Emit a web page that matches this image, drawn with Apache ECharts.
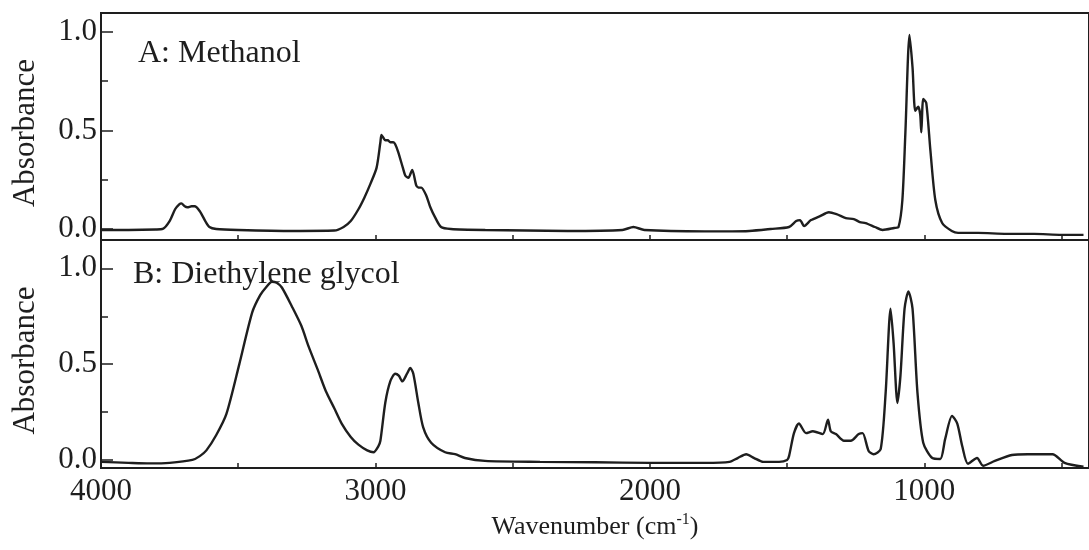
<!DOCTYPE html>
<html>
<head>
<meta charset="utf-8">
<script src="https://cdn.jsdelivr.net/npm/echarts@6/dist/echarts.min.js"></script>
<style>
html,body{margin:0;padding:0;background:#fff;}
#c{width:1089px;height:550px;}
</style>
</head>
<body>
<div id="c"></div>
<script>
// Panel A: Methanol
const methanolWn = [4000,3900,3800,3775,3750,3730,3715,3707,3695,3685,3670,3659,3640,3620,3605,3580,3500,3300,3150,3116,3090,3062,3040,3018,2996,2982,2978,2970,2964,2955,2946,2935,2928,2917,2900,2891,2880,2866,2851,2840,2833,2815,2800,2783,2761,2725,2600,2300,2100,2060,2020,1800,1700,1638,1560,1493,1467,1453,1438,1413,1380,1348,1320,1286,1257,1235,1214,1180,1152,1110,1094,1080,1069,1054,1043,1033,1022,1015,1011,1004,993,978,960,935,900,877,804,700,600,500,420];
const methanolAbs = [-0.005,-0.005,-0.003,0.0,0.04,0.10,0.125,0.13,0.115,0.11,0.115,0.115,0.09,0.04,0.01,0.0,-0.005,-0.01,-0.008,0.01,0.04,0.10,0.16,0.23,0.31,0.44,0.477,0.46,0.45,0.45,0.44,0.44,0.43,0.39,0.31,0.27,0.26,0.30,0.22,0.21,0.21,0.17,0.11,0.06,0.01,0.0,-0.005,-0.01,-0.005,0.01,-0.005,-0.012,-0.012,-0.01,0.0,0.01,0.04,0.045,0.015,0.045,0.065,0.085,0.075,0.055,0.05,0.035,0.03,0.01,-0.005,0.005,0.01,0.147,0.49,0.985,0.82,0.60,0.62,0.58,0.49,0.66,0.64,0.40,0.147,0.03,-0.01,-0.02,-0.02,-0.025,-0.025,-0.03,-0.03];

// Panel B: Diethylene glycol
const glycolWn = [4000,3900,3822,3750,3667,3640,3616,3580,3543,3496,3449,3420,3399,3377,3360,3341,3304,3270,3243,3210,3181,3150,3123,3090,3062,3030,3007,2990,2982,2964,2946,2928,2915,2902,2885,2873,2862,2844,2826,2797,2746,2710,2674,2601,2400,2200,2000,1800,1710,1680,1649,1620,1587,1529,1500,1493,1475,1457,1431,1406,1370,1351,1341,1322,1293,1268,1239,1225,1203,1185,1159,1141,1123,1112,1098,1087,1072,1058,1043,1025,1004,971,942,924,899,880,862,841,808,786,743,681,623,533,489,420];
const glycolAbs = [-0.01,-0.015,-0.018,-0.015,0.0,0.02,0.05,0.13,0.24,0.50,0.77,0.86,0.90,0.93,0.925,0.90,0.80,0.70,0.59,0.47,0.36,0.27,0.19,0.12,0.08,0.05,0.04,0.07,0.10,0.30,0.41,0.45,0.44,0.41,0.45,0.48,0.45,0.30,0.17,0.09,0.04,0.03,0.01,-0.005,-0.01,-0.012,-0.015,-0.015,-0.01,0.01,0.03,0.01,-0.01,-0.01,0.0,0.02,0.14,0.19,0.14,0.15,0.135,0.21,0.15,0.135,0.10,0.10,0.135,0.14,0.047,0.03,0.057,0.35,0.79,0.61,0.297,0.44,0.79,0.88,0.79,0.35,0.09,0.01,0.005,0.11,0.23,0.19,0.073,-0.02,0.01,-0.03,-0.005,0.026,0.03,0.03,-0.015,-0.035];

// Tick labels
const xTickLabels = [4000, 3000, 2000, 1000];
const xTickMarks = [4000, 3500, 3000, 2500, 2000, 1500, 1000, 500];
const yTickLabels = [0, 0.5, 1.0];
const yMinorTicks = [0.25, 0.75];
const panelNames = ['A: Methanol', 'B: Diethylene glycol'];

const FONT = '"Liberation Serif", "DejaVu Serif", serif';
const INK = '#1e1e1e';

const zip = (xs, ys) => xs.map((x, i) => [x, ys[i]]);

const chart = echarts.init(document.getElementById('c'), null, {renderer: 'canvas'});

const grids = [
  {left: 101, top: 13, width: 994, height: 227},
  {left: 101, top: 240, width: 994, height: 228}
].map(g => Object.assign(g, {show: true, borderColor: INK, borderWidth: 2, backgroundColor: 'transparent', containLabel: false}));

const yRanges = [[-0.056, 1.096], [-0.042, 1.148]];

function xAxisFor(i, showLabels) {
  return {
    type: 'value', gridIndex: i, min: 400, max: 4000, inverse: true, position: 'bottom',
    axisLine: {show: true, onZero: false, lineStyle: {color: INK, width: 2}},
    axisTick: {show: true, inside: true, length: 5, customValues: xTickMarks, lineStyle: {color: INK, width: 1.5}},
    axisLabel: {show: showLabels, customValues: xTickLabels, margin: 8, fontFamily: FONT, fontSize: 31, color: INK,
      formatter: v => String(v)},
    splitLine: {show: false},
    name: showLabels ? '{a|Wavenumber (cm}{s|-1}{a|)}' : '',
    nameLocation: 'middle', nameGap: 44,
    nameTextStyle: {
      fontFamily: FONT, fontSize: 26, color: INK,
      rich: {
        a: {fontFamily: FONT, fontSize: 26, color: INK, lineHeight: 30},
        s: {fontFamily: FONT, fontSize: 16, color: INK, verticalAlign: 'top', lineHeight: 30, padding: [0, 0, 12, 0]}
      }
    }
  };
}

function yMainFor(i) {
  return {
    type: 'value', gridIndex: i, min: yRanges[i][0], max: yRanges[i][1],
    axisLine: {show: true, onZero: false, lineStyle: {color: INK, width: 2}},
    axisTick: {show: true, inside: true, length: 12, customValues: yTickLabels, lineStyle: {color: INK, width: 1.5}},
    axisLabel: {show: true, customValues: yTickLabels, margin: 4, fontFamily: FONT, fontSize: 31, color: INK,
      formatter: v => v.toFixed(1)},
    splitLine: {show: false},
    name: 'Absorbance', nameLocation: 'middle', nameRotate: 90, nameGap: 60,
    nameTextStyle: {fontFamily: FONT, fontSize: 31, color: INK, padding: [0, 13, 0, 0]}
  };
}

function yMinorFor(i) {
  return {
    type: 'value', gridIndex: i, min: yRanges[i][0], max: yRanges[i][1], position: 'left',
    axisLine: {show: false, onZero: false},
    axisTick: {show: true, inside: true, length: 7, customValues: yMinorTicks, lineStyle: {color: INK, width: 1.5}},
    axisLabel: {show: false},
    splitLine: {show: false}
  };
}

const lineStyle = {color: INK, width: 2.4};

chart.setOption({
  animation: false,
  backgroundColor: '#fff',
  title: [
    {text: panelNames[0], left: 133, top: 33, textStyle: {fontFamily: FONT, fontSize: 32, fontWeight: 'normal', color: INK}},
    {text: panelNames[1], left: 128, top: 254, textStyle: {fontFamily: FONT, fontSize: 32, fontWeight: 'normal', color: INK}}
  ],
  grid: grids,
  xAxis: [xAxisFor(0, false), xAxisFor(1, true)],
  yAxis: [yMainFor(0), yMainFor(1), yMinorFor(0), yMinorFor(1)],
  series: [
    {name: panelNames[0], type: 'line', xAxisIndex: 0, yAxisIndex: 0, data: zip(methanolWn, methanolAbs),
      showSymbol: false, symbol: 'none', smooth: 0.25, lineStyle: lineStyle, clip: true},
    {name: panelNames[1], type: 'line', xAxisIndex: 1, yAxisIndex: 1, data: zip(glycolWn, glycolAbs),
      showSymbol: false, symbol: 'none', smooth: 0.25, lineStyle: lineStyle, clip: true}
  ]
});
</script>
</body>
</html>
